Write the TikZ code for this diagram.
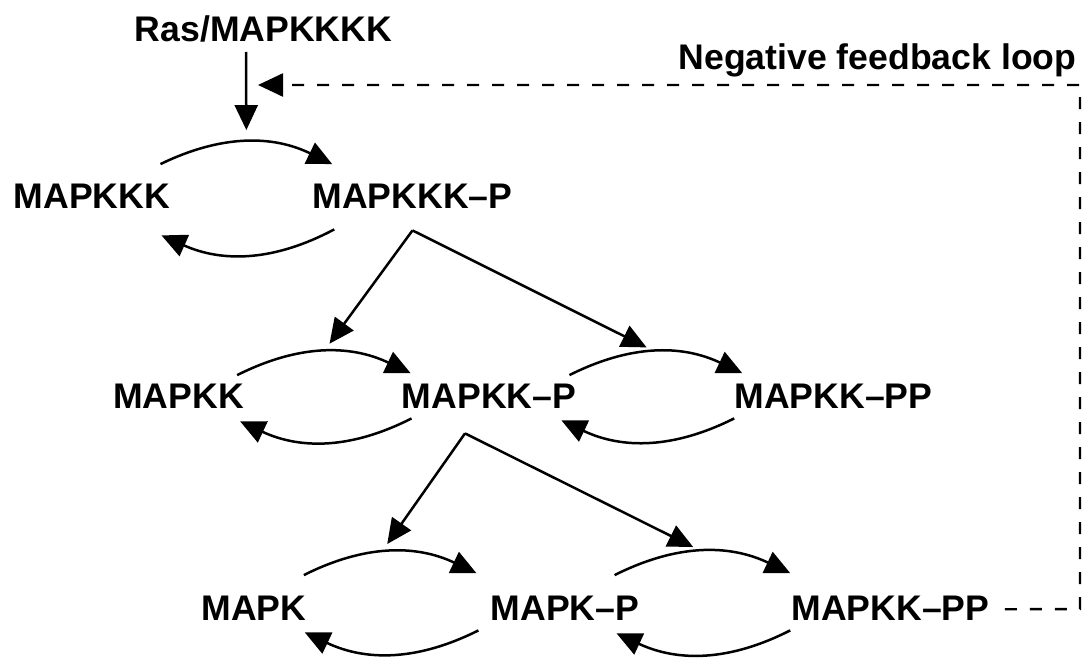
\documentclass[tikz,border=0pt]{standalone}
\usepackage{fontspec}
\setmainfont{Liberation Sans}
\usetikzlibrary{arrows.meta, calc}
\tikzstyle{species} = [inner sep=0pt, anchor=base,
                 font=\bfseries\fontsize{17.8}{21}\selectfont]
\tikzstyle{reaction} = [line width=1.25pt, -{Triangle[length=12.5pt, width=11.5pt]}]
\tikzset{
	turnover/.style={reaction, bend left=26},
	feedback/.style={line width=1.2pt, dash pattern=on 6pt off 6.5pt,
		-{Triangle[length=12.5pt, width=11.5pt]}},
}

\begin{document}
\begin{tikzpicture}[x=0.5pt, y=0.5pt]
\useasboundingbox (0,0) rectangle (1086,-658);

\node [species] at (263.5,-42) (ras) {Ras/MAPKKKK};
\node [species] at (877.5,-70) (loop) {Negative feedback loop};

\node [species] at (92,-208) (mapkkk) {MAPKKK};
\node [species] at (412.5,-208) (mapkkkp) {MAPKKK--P};

\node [species] at (178.5,-408) (mapkk) {MAPKK};
\node [species] at (489,-408) (mapkkp) {MAPKK--P};
\node [species] at (833.5,-408) (mapkkpp) {MAPKK--PP};

\node [species] at (254,-620) (mapk) {MAPK};
\node [species] at (565,-620) (mapkp) {MAPK--P};
\node [species] at (890.5,-620) (mapkkpp2) {MAPKK--PP};

% phosphorylation / dephosphorylation cycles
\draw [turnover] ($(mapkkk.north east)+(-10,19)$) to
	node[coordinate, pos=0.5] (top1) {} ($(mapkkkp.north west)+(20,19)$);
\draw [turnover] ($(mapkkkp.south west)+(22,-21)$) to ($(mapkkk.south east)+(-9,-27)$);

\draw [turnover] ($(mapkk.north east)+(-7,8)$) to
	node[coordinate, pos=0.5] (top2) {} ($(mapkkp.north west)+(9,10)$);
\draw [turnover] ($(mapkkp.south west)+(10,-10)$) to ($(mapkk.south east)+(-4,-13)$);
\draw [turnover] ($(mapkkp.north east)+(-7,8)$) to
	node[coordinate, pos=0.5] (top3) {} ($(mapkkpp.north west)+(8,10)$);
\draw [turnover] ($(mapkkpp.south west)+(0,-10)$) to ($(mapkkp.south east)+(-15,-12)$);

\draw [turnover] ($(mapk.north east)+(-3,20)$) to
	node[coordinate, pos=0.45] (top4) {} ($(mapkp.north west)+(-14,22)$);
\draw [turnover] ($(mapkp.south west)+(-12,-10)$) to ($(mapk.south east)+(-2,-12)$);
\draw [turnover] ($(mapkp.north east)+(-25,20)$) to
	node[coordinate, pos=0.5] (top5) {} ($(mapkkpp2.north west)+(-1,22)$);
\draw [turnover] ($(mapkkpp2.south west)+(-1,-10)$) to ($(mapkp.south east)+(-23,-13)$);

% activation
\draw [reaction] ($(ras.base)+(-17.5,-10)$) -- ($(top1)+(0,12)$);
\draw [reaction, shorten >=5pt] ($(mapkkkp.south)+(0,-22)$) -- (top2);
\draw [reaction, shorten >=5pt] ($(mapkkkp.south)+(0,-22)$) -- (top3);
\draw [reaction, shorten >=5pt] ($(mapkkp.south)+(-24,-25)$) -- (top4);
\draw [reaction, shorten >=5pt] ($(mapkkp.south)+(-24,-25)$) -- (top5);

% feedback
\coordinate (fbbot) at (1080,-609);
\coordinate (fbtop) at (1080,-85);
\coordinate (fbend) at (258,-85);
\draw [feedback] ($(mapkkpp2.east)+(15,-1.5)$) -- (fbbot) -- (fbtop) -- (fbend);

\end{tikzpicture}
\end{document}
